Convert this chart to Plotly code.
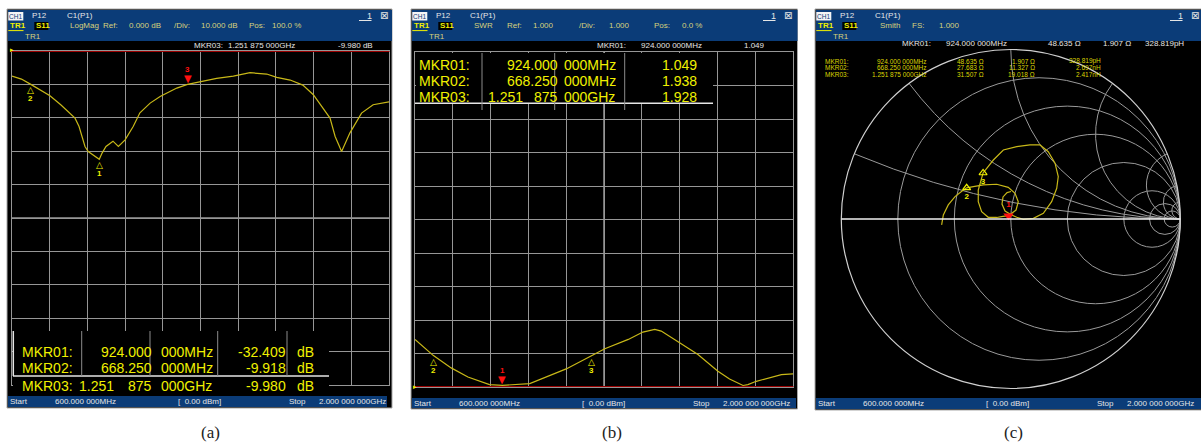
import numpy as np
import plotly.graph_objects as go

W, H = 1201, 446

# ---------------- data ----------------
F_START_MHZ, F_STOP_MHZ = 600.0, 2000.0
N_DIV = 10
LOG_REF_DB, LOG_DIV_DB = 0.0, 10.0
SWR_REF, SWR_DIV = 1.0, 1.0

S11_FREQ_MHZ = [600, 635, 668.25, 704, 741, 781, 809, 834, 849, 871, 883, 901, 924, 935, 949, 975,
                995, 1020, 1050, 1075, 1113, 1150, 1212, 1251.875, 1300, 1360, 1422, 1484, 1546,
                1583, 1633, 1680, 1719, 1750, 1781, 1800, 1824, 1855, 1898, 1941, 2000]
S11_DB = [-7.5, -8.4, -9.918, -11.6, -13.4, -16.1, -18.1, -20.1, -22.6, -28.6, -30.1, -31.0, -32.409,
          -30.5, -28.6, -27.0, -28.6, -26.6, -22.6, -18.5, -15.6, -13.6, -11.1, -9.980, -9.1, -8.2,
          -7.5, -6.5, -6.9, -7.9, -8.7, -10.2, -13.1, -16.6, -20.1, -25.6, -30.1, -24.5, -18.6,
          -16.1, -15.2]

SWR_FREQ_MHZ = [600, 668.25, 734, 796, 876, 924, 1025, 1093, 1160, 1251.875, 1303, 1390, 1444, 1488,
                1512, 1580, 1648, 1722, 1765, 1815, 1833, 1864, 1920, 1957, 2000]
SWR_VAL = [2.42, 1.938, 1.57, 1.30, 1.07, 1.049, 1.10, 1.32, 1.54, 1.928, 2.14, 2.42, 2.64, 2.72,
           2.67, 2.32, 1.97, 1.47, 1.24, 1.045, 1.07, 1.17, 1.30, 1.37, 1.39]

GAMMA_RE = [-0.408, -0.398, -0.369, -0.329, -0.280, -0.2605, -0.221, -0.162, -0.083, -0.015, 0.025,
            0.044, 0.031, -0.0135, -0.046, -0.083, -0.133, -0.172, -0.192, -0.192, -0.1636, -0.142,
            -0.103, -0.044, 0.035, 0.113, 0.172, 0.221, 0.261, 0.280, 0.271, 0.241, 0.192, 0.133,
            0.074, 0.035, 0.005, -0.034, -0.052, -0.046, -0.022, 0.001]
GAMMA_IM = [-0.035, 0.024, 0.083, 0.132, 0.171, 0.1838, 0.191, 0.201, 0.205, 0.187, 0.152, 0.102,
            0.053, 0.0196, 0.015, 0.009, 0.010, 0.043, 0.102, 0.171, 0.2715, 0.299, 0.348, 0.407,
            0.427, 0.437, 0.437, 0.397, 0.329, 0.250, 0.181, 0.102, 0.034, 0.004, -0.002, 0.010,
            0.024, 0.047, 0.088, 0.130, 0.156, 0.162]

MKR_NAMES = ["MKR01:", "MKR02:", "MKR03:"]
MKR_FREQ_MHZ = [924.0, 668.25, 1251.875]
MKR_FREQ_TXT = ["924.000 000MHz", "668.250 000MHz", "1.251 875 000GHz"]
MKR_DB = [-32.409, -9.918, -9.980]
MKR_SWR = [1.049, 1.938, 1.928]
MKR_R_OHM = [48.635, 27.683, 31.507]
MKR_X_OHM = [1.907, 11.327, 19.018]
MKR_LC_TXT = ["328.819pH", "2.697nH", "2.417nH"]
Z0_OHM = 50.0
ACTIVE = {"a": 2, "b": 0, "c": 0}

SMITH_R_GRID = [0.2, 0.5, 1, 2, 5, 10, 20]
SMITH_X_GRID = [0.2, 0.5, 1, 2, 5, 10, 20]

# ---------------- style ----------------
BLUE = "#0b3c78"
GRID = "#969696"
CENTER = "#e4e4e4"
REFRED = "#9a0000"
TRACE = "#c8b818"
YEL = "#f0f000"
PALE = "#d8d27c"
WHITE = "#e6e6e6"
UI = "Liberation Sans, Arial, sans-serif"
SYM = "DejaVu Sans"
SM = 8        # small UI text
BIG = 14      # marker table text


def X(p):
    return p / W


def Y(p):
    return 1 - p / H


shapes, annos = [], []


def rect(x0, y0, x1, y1, fill, line=None, layer="below"):
    shapes.append(dict(type="rect", xref="paper", yref="paper", x0=X(x0), x1=X(x1),
                       y0=Y(y1), y1=Y(y0), fillcolor=fill, layer=layer,
                       line=dict(color=line if line else fill, width=1 if line else 0)))


def seg(x0, y0, x1, y1, color, width=1, layer="above"):
    shapes.append(dict(type="line", xref="paper", yref="paper", x0=X(x0), x1=X(x1),
                       y0=Y(y0), y1=Y(y1), line=dict(color=color, width=width), layer=layer))


def text(x, y, s, color, size=SM, anchor="left", family=UI):
    annos.append(dict(xref="paper", yref="paper", x=X(x), y=Y(y), text=s, showarrow=False,
                      xanchor=anchor, yanchor="middle", borderpad=0,
                      font=dict(family=family, size=size, color=color)))


def chrome(ox, fx0, fx1, fy1, bar_x1, bar_y0, bar_y1, row2, right_x):
    rect(fx0, 9, fx1, fy1, "#000000", line="#a8a8a8")
    rect(fx0 + 1, 10, fx1, 41, BLUE)
    rect(fx0 + 1, bar_y0, bar_x1, bar_y1, BLUE)
    # title row 1
    rect(ox - 0.7, 12, ox + 14.3, 20.5, "#f4f4f4")
    text(ox + 6.8, 16.3, "CH1", BLUE, 6.5, anchor="center")
    text(ox + 21.7, 16, "P12", WHITE)
    text(ox + 56.5, 16, "C1(P1)", WHITE)
    text(right_x, 16, "1", WHITE, 9)
    seg(right_x - 7, 20.5, right_x + 5.5, 20.5, WHITE)
    text(right_x + 13, 16, "⊠", WHITE, 10, family=SYM)
    # title row 2
    text(ox - 0.3, 26, "<b>TR1</b>", YEL)
    seg(ox - 0.7, 30.6, ox + 14.5, 30.6, YEL)
    rect(ox + 25.3, 22, ox + 39.3, 30, "#000000")
    text(ox + 26.0, 26, "<b>S11</b>", YEL)
    for xx, s in row2:
        text(xx, 26, s, PALE)
    text(ox + 14.5, 36, "TR1", PALE)
    # bottom bar
    yb = (bar_y0 + bar_y1) / 2
    text(ox - 0.5, yb, "Start", WHITE)
    text(ox + 44.5, yb, "600.000 000MHz", WHITE)
    text(ox + 168, yb, "[  0.00 dBm]", WHITE)
    text(ox + 278.5, yb, "Stop", WHITE)
    text(ox + 309, yb, "2.000 000 000GHz", WHITE)


def freq_cells(row_y, parts_text, unit_left, before_right, first_right3, size, color):
    parts = parts_text.split(" ")
    text(unit_left, row_y, parts[-1], color, size)
    text(before_right, row_y, parts[-2], color, size, anchor="right")
    if len(parts) == 3:
        text(first_right3, row_y, parts[0], color, size, anchor="right")


def mark_annos(xref, yref, xs, ys, active, label_shift=8):
    for i in range(len(xs)):
        if i == active:
            annos.append(dict(xref=xref, yref=yref, x=xs[i], y=ys[i], text="▼",
                              showarrow=False, yanchor="bottom", yshift=-2,
                              font=dict(family=SYM, size=10, color="#ff1010")))
            annos.append(dict(xref=xref, yref=yref, x=xs[i], y=ys[i], text=f"<b>{i+1}</b>",
                              showarrow=False, yanchor="bottom", yshift=label_shift,
                              font=dict(family=UI, size=8, color="#ff1010")))
        else:
            annos.append(dict(xref=xref, yref=yref, x=xs[i], y=ys[i], text="△",
                              showarrow=False, yanchor="top", yshift=1,
                              font=dict(family=SYM, size=9, color=YEL)))
            annos.append(dict(xref=xref, yref=yref, x=xs[i], y=ys[i], text=f"<b>{i+1}</b>",
                              showarrow=False, yanchor="top", yshift=-8,
                              font=dict(family=UI, size=8, color=YEL)))


fig = go.Figure()
f_mid = (F_START_MHZ + F_STOP_MHZ) / 2

# ====================== panel (a): LogMag ======================
chrome(9, 7, 392, 408, 387, 396, 407,
       [(69, "LogMag"), (101.7, "Ref:"), (128, "0.000 dB"), (173, "/Div:"), (200, "10.000 dB"),
        (248, "Pos:"), (270.7, "100.0 %")], 366)

fig.add_trace(go.Scatter(x=S11_FREQ_MHZ, y=S11_DB, mode="lines", xaxis="x", yaxis="y",
                         line=dict(color=TRACE, width=1.2), hoverinfo="skip", showlegend=False))

shapes.append(dict(type="line", xref="x", yref="y domain", x0=f_mid, x1=f_mid, y0=0, y1=1,
                   line=dict(color=CENTER, width=1), layer="below"))
shapes.append(dict(type="line", xref="x domain", yref="y", x0=0, x1=1,
                   y0=LOG_REF_DB - LOG_DIV_DB * N_DIV / 2, y1=LOG_REF_DB - LOG_DIV_DB * N_DIV / 2,
                   line=dict(color=CENTER, width=1), layer="below"))
shapes.append(dict(type="line", xref="paper", yref="y", x0=X(10), x1=X(389.5), y0=LOG_REF_DB,
                   y1=LOG_REF_DB, line=dict(color=REFRED, width=2), layer="above"))
text(8.5, 49.5, "▸", YEL, 7, family=SYM)

ka = ACTIVE["a"]
text(192.7, 46, MKR_NAMES[ka], WHITE)
text(226.7, 46, MKR_FREQ_TXT[ka], WHITE)
text(337, 46, f"{MKR_DB[ka]:.3f} dB", WHITE)

# marker table (a)
rect(13, 331, 329, 395.5, "#000000", layer="above")
seg(13.3, 331, 13.3, 376, WHITE, 1.5)
seg(13, 376, 329, 376, WHITE, 1.5)
for xs in (81.7, 150, 217.7, 287):
    seg(xs, 331, xs, 376, "#8c8c8c")
for i, ry in enumerate((351.7, 368.3, 386)):
    text(20.7, ry, MKR_NAMES[i], YEL, BIG)
    freq_cells(ry, MKR_FREQ_TXT[i], 160, 153, 115.5, BIG, YEL)
    text(287, ry, f"{MKR_DB[i]:.3f}", YEL, BIG, anchor="right")
    text(296, ry, "dB", YEL, BIG)

mark_annos("x", "y", MKR_FREQ_MHZ, MKR_DB, ka)

# ====================== panel (b): SWR ======================
chrome(413, 411, 797.5, 409, 796, 398, 408,
       [(473, "SWR"), (505.7, "Ref:"), (532, "1.000"), (578, "/Div:"), (608, "1.000"),
        (653, "Pos:"), (681.3, "0.0 %")], 770)

fig.add_trace(go.Scatter(x=SWR_FREQ_MHZ, y=SWR_VAL, mode="lines", xaxis="x2", yaxis="y2",
                         line=dict(color=TRACE, width=1.2), hoverinfo="skip", showlegend=False))
shapes.append(dict(type="line", xref="x2", yref="y2 domain", x0=f_mid, x1=f_mid, y0=0, y1=1,
                   line=dict(color=CENTER, width=1), layer="below"))
shapes.append(dict(type="line", xref="x2 domain", yref="y2", x0=0, x1=1,
                   y0=SWR_REF + SWR_DIV * N_DIV / 2, y1=SWR_REF + SWR_DIV * N_DIV / 2,
                   line=dict(color=CENTER, width=1), layer="below"))
shapes.append(dict(type="line", xref="paper", yref="y2", x0=X(414), x1=X(793.5), y0=SWR_REF,
                   y1=SWR_REF, line=dict(color=REFRED, width=2), layer="above"))
text(412, 387, "▸", YEL, 7, family=SYM)

kb = ACTIVE["b"]
text(596.3, 46, MKR_NAMES[kb], WHITE)
text(639.7, 46, MKR_FREQ_TXT[kb], WHITE)
text(743, 46, f"{MKR_SWR[kb]:.3f}", WHITE)

rect(416, 53, 713, 103, "#000000", layer="above")
seg(415, 103.3, 713, 103.3, WHITE, 1.5)
for xs in (482, 554.7, 624.7):
    seg(xs, 53, xs, 110, "#8c8c8c")
for i, ry in enumerate((65, 80.5, 96.7)):
    text(418, ry, MKR_NAMES[i], YEL, BIG)
    freq_cells(ry, MKR_FREQ_TXT[i], 563, 559, 524, BIG, YEL)
    text(698, ry, f"{MKR_SWR[i]:.3f}", YEL, BIG, anchor="right")

mark_annos("x2", "y2", MKR_FREQ_MHZ, MKR_SWR, kb)

# ====================== panel (c): Smith ======================
chrome(817, 815, 1203, 410, 1203, 398, 409,
       [(878.7, "Smith"), (911.3, "FS:"), (938, "1.000")], 1177)

gam = np.array(GAMMA_RE) + 1j * np.array(GAMMA_IM)
z = (1 + gam) / (1 - gam)
fig.add_trace(go.Scattersmith(real=z.real, imag=z.imag, subplot="smith", mode="lines",
                              line=dict(color=TRACE, width=1.2), hoverinfo="skip",
                              showlegend=False))
zr = np.array(MKR_R_OHM) / Z0_OHM
zx = np.array(MKR_X_OHM) / Z0_OHM
kc = ACTIVE["c"]
pas = [i for i in range(3) if i != kc]
fig.add_trace(go.Scattersmith(real=zr[pas], imag=zx[pas], subplot="smith", mode="markers+text",
                              marker=dict(symbol="triangle-up-open", size=7, color=YEL,
                                          line=dict(width=1.2, color=YEL)),
                              text=[f"<b>{i+1}</b>" for i in pas], textposition="bottom center",
                              textfont=dict(family=UI, size=8, color=YEL), hoverinfo="skip",
                              showlegend=False))
fig.add_trace(go.Scattersmith(real=[zr[kc]], imag=[zx[kc]], subplot="smith", mode="markers+text",
                              marker=dict(symbol="triangle-down", size=9, color="#ff1010"),
                              text=[f"<b>{kc+1}</b>"], textposition="top center",
                              textfont=dict(family=UI, size=8, color="#ff1010"), hoverinfo="skip",
                              showlegend=False))

text(901, 44, MKR_NAMES[kc], WHITE)
text(944.7, 44, MKR_FREQ_TXT[kc], WHITE)
text(1047, 44, f"{MKR_R_OHM[kc]:.3f} Ω", WHITE)
text(1102, 44, f"{MKR_X_OHM[kc]:.3f} Ω", WHITE)
text(1143.7, 44, MKR_LC_TXT[kc], WHITE)
SMC = "#dcd400"
for i, ry in enumerate((61.0, 67.8, 74.6)):
    text(823.7, ry, MKR_NAMES[i], SMC, 6.5)
    text(928, ry, MKR_FREQ_TXT[i], SMC, 6.5, anchor="right")
    text(985, ry, f"{MKR_R_OHM[i]:.3f} Ω", SMC, 6.5, anchor="right")
    text(1036, ry, f"{MKR_X_OHM[i]:.3f} Ω", SMC, 6.5, anchor="right")
    text(1102, ry, MKR_LC_TXT[i], SMC, 6.5, anchor="right")

# captions
for cx, cap in ((210, "(a)"), (612, "(b)"), (1013, "(c)")):
    text(cx, 432.5, cap, "#222222", 17, anchor="center", family="Liberation Serif, serif")

# ---------------- axes / layout ----------------
ax_common = dict(showgrid=True, gridcolor=GRID, gridwidth=1, zeroline=False, showticklabels=False,
                 ticks="", showline=True, mirror=True, linecolor=GRID, linewidth=1, fixedrange=True)
fdiv = (F_STOP_MHZ - F_START_MHZ) / N_DIV
fig.update_layout(
    width=W, height=H, autosize=False, margin=dict(l=0, r=0, t=0, b=0),
    paper_bgcolor="#ffffff", plot_bgcolor="#000000", showlegend=False,
    xaxis=dict(domain=[X(12), X(389)], range=[F_START_MHZ, F_STOP_MHZ], tick0=F_START_MHZ,
               dtick=fdiv, anchor="y", **ax_common),
    yaxis=dict(domain=[Y(385), Y(51)], range=[LOG_REF_DB - LOG_DIV_DB * N_DIV, LOG_REF_DB],
               tick0=LOG_REF_DB, dtick=LOG_DIV_DB, anchor="x", **ax_common),
    xaxis2=dict(domain=[X(415), X(793)], range=[F_START_MHZ, F_STOP_MHZ], tick0=F_START_MHZ,
                dtick=fdiv, anchor="y2", **ax_common),
    yaxis2=dict(domain=[Y(387), Y(52)], range=[SWR_REF, SWR_REF + SWR_DIV * N_DIV],
                tick0=SWR_REF, dtick=SWR_DIV, anchor="x2", **ax_common),
    smith=dict(
        domain=dict(x=[X(841.3), X(1180.3)], y=[Y(388.5), Y(49.5)]),
        bgcolor="#000000",
        realaxis=dict(tickvals=SMITH_R_GRID, showticklabels=False, ticks="", gridcolor="#9a9a9a",
                      gridwidth=1, showline=True, linecolor="#f0f0f0", linewidth=1.5),
        imaginaryaxis=dict(tickvals=SMITH_X_GRID, showticklabels=False, ticks="",
                           gridcolor="#9a9a9a", gridwidth=1, showline=True,
                           linecolor="#d0d0d0", linewidth=1.2),
    ),
    shapes=shapes, annotations=annos,
)

fig.write_html("out.html", config={"displayModeBar": False, "staticPlot": True},
               post_script="document.body.style.margin='0';document.body.style.overflow='hidden';")
